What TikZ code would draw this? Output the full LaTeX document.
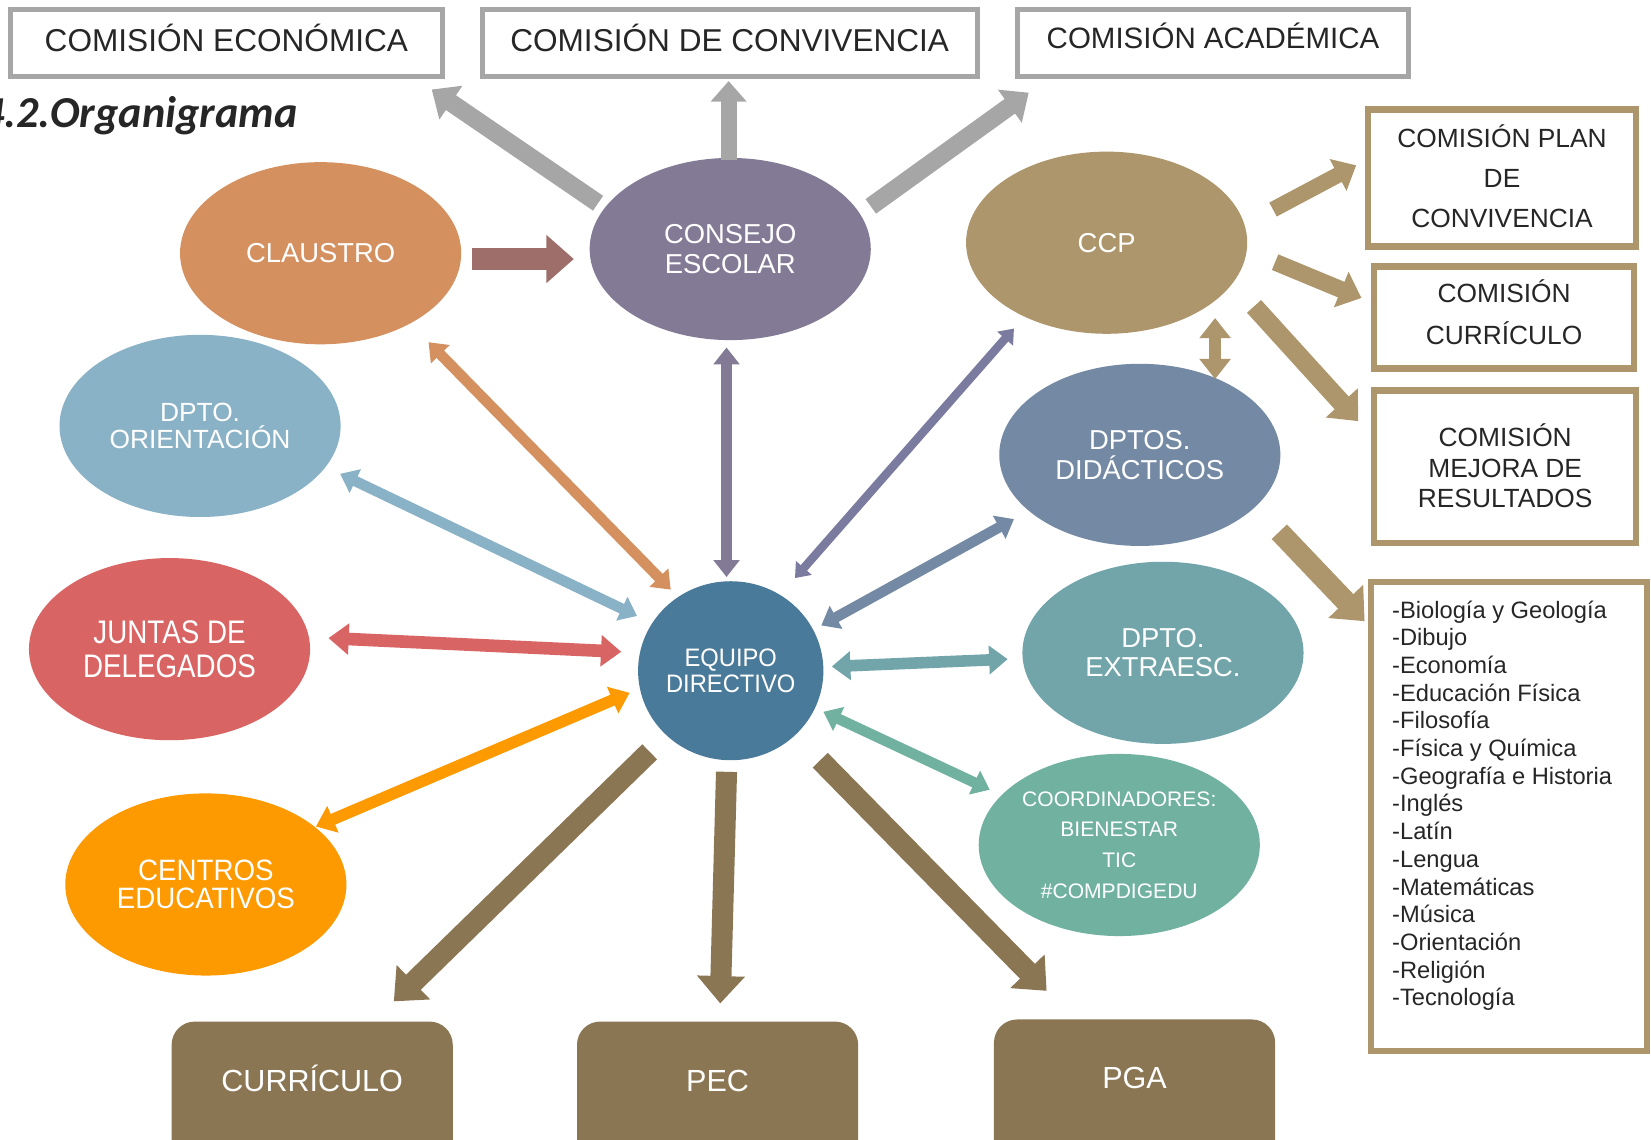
\documentclass[tikz,border=0pt]{standalone}
\usepackage{fontspec}
\setmainfont{Liberation Sans}
\newfontfamily\narrowf[FakeStretch=0.85]{Liberation Sans}
\newfontfamily\semif[FakeStretch=0.94]{Liberation Sans}
\newfontfamily\titlef{Carlito}
\usetikzlibrary{shapes.geometric,arrows.meta,calc}
\definecolor{cgray}{HTML}{A6A6A6}
\definecolor{ctext}{HTML}{262626}
\definecolor{cclaus}{HTML}{D4915F}
\definecolor{cclarr}{HTML}{9E6F6A}
\definecolor{ccons}{HTML}{837A96}
\definecolor{cccp}{HTML}{AD966C}
\definecolor{corient}{HTML}{8AB2C6}
\definecolor{cdidac}{HTML}{7489A3}
\definecolor{cjuntas}{HTML}{D96464}
\definecolor{cextra}{HTML}{71A5A9}
\definecolor{cequipo}{HTML}{4A7A99}
\definecolor{ccentros}{HTML}{FD9A01}
\definecolor{ccoord}{HTML}{70B1A0}
\definecolor{cbrown}{HTML}{8B7653}
\definecolor{ctan}{HTML}{AE966C}
\definecolor{cccparr}{HTML}{7B7BA0}
\tikzset{
  ell/.style={ellipse, minimum width=267pt, minimum height=173pt, inner sep=0pt, text=white, align=center},
  graybox/.style={draw=cgray, line width=5pt, fill=white, inner sep=0pt, text=ctext, minimum height=64pt},
  tanbox/.style={draw=ctan, line width=6pt, fill=white, inner sep=0pt},
  tantext/.style={inner sep=0pt, text=ctext, align=center},
  docbox/.style={fill=cbrown, rounded corners=22pt, minimum width=267pt, anchor=north, inner sep=0pt, text=white,
     font=\fontsize{29}{34}\selectfont, text height=66pt, text depth=100pt},
  onearr/.style={line width=#1, -{Triangle[width=0pt 2.2,length=0pt 1.3]}},
  twoarr/.style={line width=#1, {Triangle[width=0pt 2.4,length=0pt 1.6]}-{Triangle[width=0pt 2.4,length=0pt 1.6]}},
  listitem/.style={anchor=base west, inner sep=0pt, text=ctext, font=\fontsize{22.5}{26}\selectfont}
}
\begin{document}
\begin{tikzpicture}[x=1pt,y=-1pt]
\useasboundingbox (0,0) rectangle (1568,1082);
\clip (0,0) rectangle (1568,1082);
\fill[white] (0,0) rectangle (1568,1082);

% top commission boxes
\node[graybox, minimum width=410pt, text height=20pt, text depth=4.6pt, font=\fontsize{30}{36}\selectfont] (econ) at (215,41) {COMISIÓN ECONÓMICA};
\node[graybox, minimum width=470pt, text height=20pt, text depth=4.6pt, font=\fontsize{30}{36}\selectfont] (conv) at (693,41) {COMISIÓN DE CONVIVENCIA};
\node[graybox, minimum width=372pt, text height=20pt, text depth=10pt, font=\fontsize{28}{34}\selectfont] (acad) at (1152,41) {COMISIÓN ACADÉMICA};

% title
\node[anchor=base west, inner sep=0pt, text=ctext, font=\titlef\bfseries\itshape\fontsize{42}{50}\selectfont] (title) at (-17,121) {4.2.Organigrama};

% ellipses
\node[ell, fill=cclaus, font=\fontsize{26}{28}\selectfont] (claustro) at (304.5,240.5) {CLAUSTRO};
\node[ell, fill=ccons, font=\fontsize{26}{28}\selectfont] (consejo) at (693.5,236.5) {CONSEJO\\ESCOLAR};
\node[ell, fill=cccp, font=\fontsize{26}{28}\selectfont] (ccp) at (1051,230.5) {CCP};
\node[ell, fill=corient, font=\fontsize{25}{26}\selectfont] (orient) at (190,404.5) {DPTO.\\ORIENTACIÓN};
\node[ell, fill=cdidac, font=\fontsize{26}{28}\selectfont] (didac) at (1082.5,432) {DPTOS.\\DIDÁCTICOS};
\node[ell, fill=cjuntas, font=\narrowf\fontsize{31}{33}\selectfont] (juntas) at (161,616.5) {JUNTAS DE\\DELEGADOS};
\node[ell, fill=cextra, font=\fontsize{26}{28}\selectfont] (extra) at (1104.5,620) {DPTO.\\EXTRAESC.};
\node[ell, fill=cequipo, minimum width=176pt, minimum height=170pt, font=\semif\fontsize{24}{24}\selectfont] (equipo) at (694,637) {EQUIPO\\DIRECTIVO};
\node[ell, fill=ccentros, font=\semif\fontsize{28}{27}\selectfont] (centros) at (195.5,840) {CENTROS\\EDUCATIVOS};
\node[ell, fill=ccoord, font=\fontsize{20}{29}\selectfont] (coord) at (1063,802.5) {COORDINADORES:\\BIENESTAR\\TIC\\\#COMPDIGEDU};

% right commission boxes
\node[tanbox, minimum width=255pt, minimum height=130pt] (plan) at (1426.5,169) {};
\node[tantext, font=\fontsize{25}{38}\selectfont] (plant) at (1426.5,167) {COMISIÓN PLAN\\DE\\CONVIVENCIA};
\node[tanbox, minimum width=247pt, minimum height=97pt] (curr) at (1428.5,301.5) {};
\node[tantext, font=\fontsize{25}{39}\selectfont] (currt) at (1428.5,296.5) {COMISIÓN\\CURRÍCULO};
\node[tanbox, minimum width=249pt, minimum height=145pt] (mejora) at (1429.5,443.5) {};
\node[tantext, font=\fontsize{25}{29}\selectfont] (mejorat) at (1429.5,442.5) {COMISIÓN\\MEJORA DE\\RESULTADOS};
\node[tanbox, minimum width=262pt, minimum height=445pt] (list) at (1433,775.5) {};
\foreach \t [count=\i] in {-Biología y Geología,-Dibujo,-Economía,-Educación Física,-Filosofía,-Física y Química,-Geografía e Historia,-Inglés,-Latín,-Lengua,-Matemáticas,-Música,-Orientación,-Religión,-Tecnología}
  \node[listitem] (li\i) at (1322,{587+(\i-1)*26.3}) {\t};

% bottom document boxes
\node[docbox] (curbox) at (296.5,970) {CURRÍCULO};
\node[docbox] (pec) at (681.5,970) {PEC};
\node[docbox] (pga) at (1077.5,968) {PGA};

% arrows from consejo to top commissions
\draw[onearr=20pt, draw=cclarr] ($(claustro)+(143.5,5.5)$) -- ($(consejo)+(-148.5,9.5)$);
\draw[onearr=17pt, draw=cgray] ($(consejo)+(-125.5,-43.5)$) -- ($(econ)+(195,44)$);
\draw[onearr=15pt, draw=cgray] ($(consejo)+(-1.5,-84.5)$) -- ($(conv)+(-1,36)$);
\draw[onearr=17pt, draw=cgray] ($(consejo)+(133.5,-40.5)$) -- ($(acad)+(-175,47)$);

% ccp arrows
\draw[onearr=15pt, draw=ctan] ($(ccp)+(158,-31.5)$) -- ($(plan)+(-138.5,-12)$);
\draw[onearr=16pt, draw=ctan] ($(ccp)+(160,18.5)$) -- ($(curr)+(-135.5,-18.5)$);
\draw[onearr=18pt, draw=ctan] ($(ccp)+(140,60.5)$) -- ($(mejora)+(-139.5,-43.5)$);
\draw[twoarr=12pt, draw=ctan] ($(ccp)+(103,71.5)$) -- ($(didac)+(71.5,-72)$);
\draw[onearr=20pt, draw=ctan] ($(didac)+(132.5,73)$) -- ($(list)+(-137,-185.5)$);

% equipo double arrows
\draw[twoarr=10pt, draw=ccons] ($(equipo)+(-4,-89)$) -- ($(consejo)+(-3.5,93.5)$);
\draw[twoarr=10pt, draw=cclaus] ($(equipo)+(-57,-77)$) -- ($(claustro)+(102.5,84.5)$);
\draw[twoarr=8pt, draw=cccparr] ($(equipo)+(61,-88)$) -- ($(ccp)+(-88,81.5)$);
\draw[twoarr=10pt, draw=corient] ($(equipo)+(-89,-52)$) -- ($(orient)+(133,45.5)$);
\draw[twoarr=10pt, draw=cdidac] ($(equipo)+(86,-43)$) -- ($(didac)+(-119.5,61)$);
\draw[twoarr=12pt, draw=cjuntas] ($(equipo)+(-104,-18)$) -- ($(juntas)+(151,-10.5)$);
\draw[twoarr=11pt, draw=cextra] ($(equipo)+(96,-4)$) -- ($(extra)+(-147.5,6)$);
\draw[twoarr=11pt, draw=ccentros] ($(equipo)+(-96,21)$) -- ($(centros)+(104.5,-55)$);
\draw[twoarr=10pt, draw=ccoord] ($(equipo)+(88,39)$) -- ($(coord)+(-123,-52.5)$);

% equipo to documents
\draw[onearr=20pt, draw=cbrown] ($(equipo)+(-77,77)$) -- ($(curbox.north)+(77.5,-19)$);
\draw[onearr=20pt, draw=cbrown] ($(equipo)+(-4,96)$) -- ($(pec.north)+(2.5,-17)$);
\draw[onearr=20pt, draw=cbrown] ($(equipo)+(85,85)$) -- ($(pga.north)+(-83.5,-27)$);
\end{tikzpicture}
\end{document}
